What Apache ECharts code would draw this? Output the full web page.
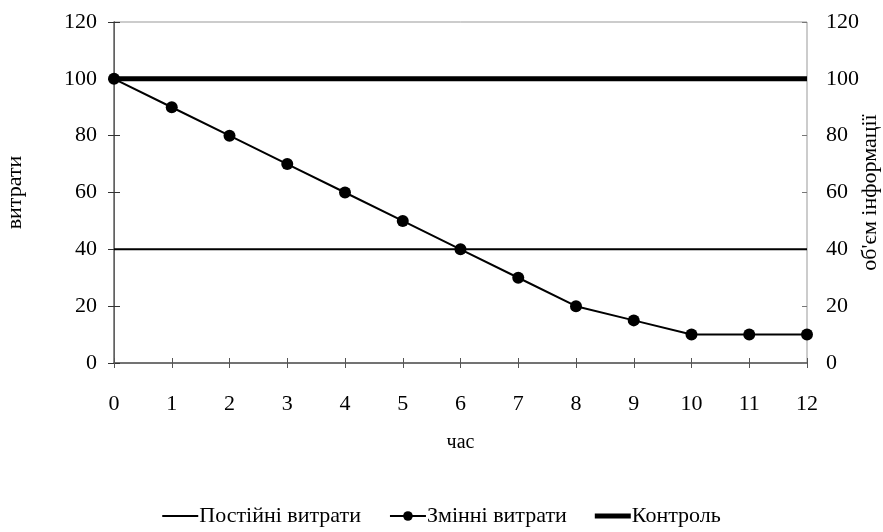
<!DOCTYPE html>
<html>
<head>
<meta charset="utf-8">
<script src="https://cdn.jsdelivr.net/npm/echarts@6/dist/echarts.min.js"></script>
<style>html,body{margin:0;padding:0;background:#fff}#c{width:883px;height:532px}</style>
</head>
<body>
<div id="c"></div>
<script>
const hours = [0,1,2,3,4,5,6,7,8,9,10,11,12];
const constantCosts = [40,40,40,40,40,40,40,40,40,40,40,40,40];
const variableCosts = [100,90,80,70,60,50,40,30,20,15,10,10,10];
const control = [100,100,100,100,100,100,100,100,100,100,100,100,100];
const seriesNames = ['Постійні витрати','Змінні витрати','Контроль'];
const yLeftName = 'витрати';
const yRightName = "об'єм інформації";
const xName = 'час';

const font = 'Liberation Serif';
const chart = echarts.init(document.getElementById('c'));
const pair = (xs, ys) => xs.map((x, i) => [x, ys[i]]);
const yBase = {
  type: 'value', min: 0, max: 120, interval: 20,
  splitLine: {show: false}
};
chart.setOption({
  animation: false,
  textStyle: {fontFamily: font, color: '#000'},
  grid: {left: 114, right: 76, top: 22, bottom: 169, show: true, borderColor: '#999', borderWidth: 1,
         outerBoundsMode: 'none', containLabel: false},
  xAxis: [
    {type: 'value', min: 0, max: 12, interval: 1, position: 'bottom',
     name: xName, nameLocation: 'middle', nameGap: 70, nameMoveOverlap: false,
     nameTextStyle: {fontFamily: font, fontSize: 20, color: '#000'},
     axisLine: {lineStyle: {color: '#555', width: 1.5}},
     axisTick: {show: true, inside: false, length: 5, lineStyle: {color: '#555'}},
     axisLabel: {fontFamily: font, fontSize: 22, color: '#000', margin: 30},
     splitLine: {show: false}},
    {type: 'value', min: 0, max: 12, interval: 1, position: 'bottom',
     axisLine: {show: false},
     axisTick: {show: true, inside: true, length: 5, lineStyle: {color: '#555'}},
     axisLabel: {show: false}, splitLine: {show: false}}
  ],
  yAxis: [
    Object.assign({}, yBase, {position: 'left',
     name: yLeftName, nameLocation: 'middle', nameGap: 88, nameRotate: 90, nameMoveOverlap: false,
     nameTextStyle: {fontFamily: font, fontSize: 22, color: '#000'},
     axisLine: {show: true, lineStyle: {color: '#222', width: 1}},
     axisTick: {show: true, inside: false, length: 6, lineStyle: {color: '#333'}},
     axisLabel: {fontFamily: font, fontSize: 22, color: '#000', margin: 17}}),
    Object.assign({}, yBase, {position: 'right',
     name: yRightName, nameLocation: 'middle', nameGap: 52, nameRotate: 90, nameMoveOverlap: false,
     nameTextStyle: {fontFamily: font, fontSize: 22, color: '#000'},
     axisLine: {show: true, lineStyle: {color: '#777', width: 1.5}},
     axisTick: {show: true, inside: false, length: 5, lineStyle: {color: '#777'}},
     axisLabel: {fontFamily: font, fontSize: 22, color: '#000', margin: 19}}),
    Object.assign({}, yBase, {position: 'left', axisLine: {show: false},
     axisTick: {show: true, inside: true, length: 6, lineStyle: {color: '#333'}},
     axisLabel: {show: false}}),
    Object.assign({}, yBase, {position: 'right', axisLine: {show: false},
     axisTick: {show: true, inside: true, length: 5, lineStyle: {color: '#777'}},
     axisLabel: {show: false}})
  ],
  legend: {
    bottom: 0, left: 'center', itemWidth: 36, itemHeight: 12, itemGap: 28,
    textStyle: {fontFamily: font, fontSize: 22, color: '#000', padding: [0,0,0,-4]},
    data: [
      {name: seriesNames[0], icon: 'path://M0,0L36,0L36,2L0,2Z'},
      {name: seriesNames[1]},
      {name: seriesNames[2], icon: 'path://M0,0L36,0L36,5L0,5Z'}
    ]
  },
  series: [
    {name: seriesNames[0], type: 'line', xAxisIndex: 0, yAxisIndex: 0,
     data: pair(hours, constantCosts), showSymbol: false, symbol: 'none',
     lineStyle: {color: '#000', width: 2}, itemStyle: {color: '#000'}, z: 3},
    {name: seriesNames[1], type: 'line', xAxisIndex: 0, yAxisIndex: 0,
     data: pair(hours, variableCosts), symbol: 'circle', symbolSize: 12,
     lineStyle: {color: '#000', width: 2}, itemStyle: {color: '#000'}, z: 4},
    {name: seriesNames[2], type: 'line', xAxisIndex: 0, yAxisIndex: 0,
     data: pair(hours, control), showSymbol: false, symbol: 'none',
     lineStyle: {color: '#000', width: 5}, itemStyle: {color: '#000'}, z: 2}
  ]
});
</script>
</body>
</html>
